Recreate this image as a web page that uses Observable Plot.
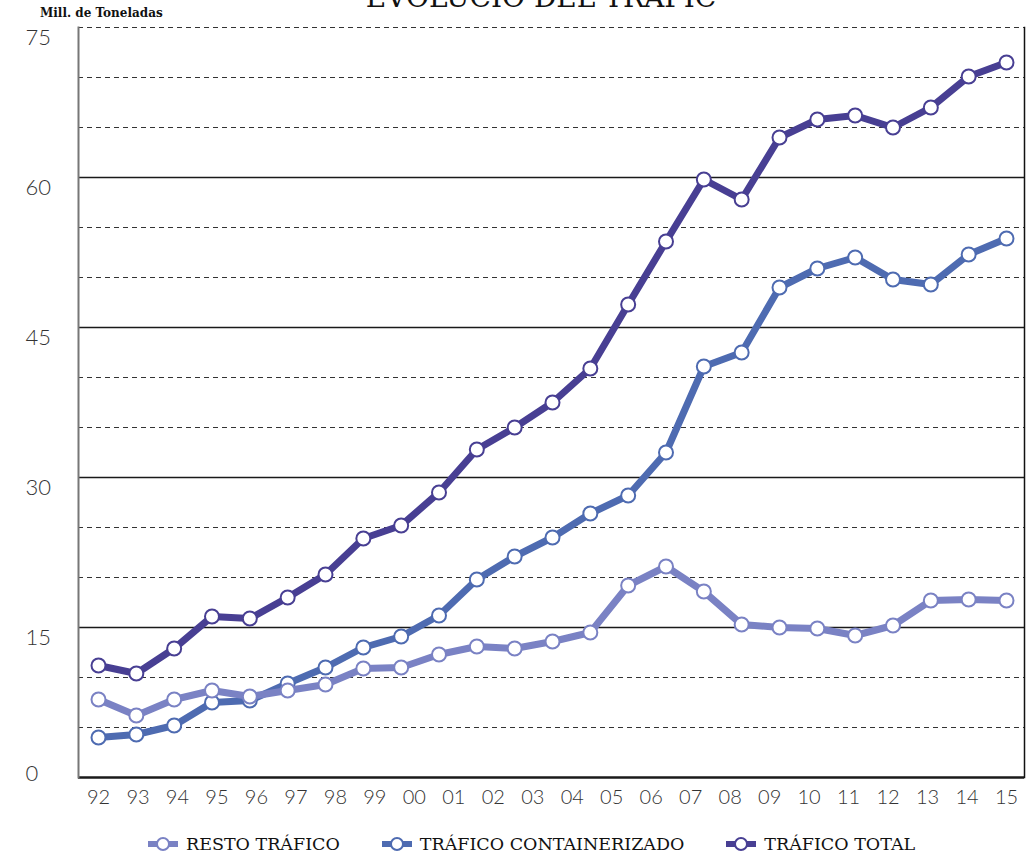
<!DOCTYPE html>
<html><head><meta charset="utf-8">
<script src="https://cdn.jsdelivr.net/npm/d3@7"></script>
<script src="https://cdn.jsdelivr.net/npm/@observablehq/plot@0.6"></script>
<style>
body{margin:0;background:#fff;}
#wrap{position:relative;width:1027px;height:856px;overflow:hidden;background:#fff;}
#chart{position:absolute;top:0;left:0;}
#title{position:absolute;top:-18px;left:291px;width:500px;text-align:center;font-family:"DejaVu Serif";font-size:28px;line-height:32px;color:#111;white-space:nowrap;z-index:2;}
#unit{position:absolute;top:6px;left:40px;font-family:"DejaVu Serif";font-weight:bold;font-size:12px;line-height:14px;color:#111;white-space:nowrap;z-index:2;}
#legend{position:absolute;top:834px;left:148px;display:flex;align-items:center;font-family:"DejaVu Serif";font-size:17.5px;color:#111;white-space:nowrap;z-index:2;}
.item{display:flex;align-items:center;margin-right:42px;}
.item svg{margin-right:8px;}
</style></head><body>
<div id="wrap">
<div id="chart"></div>
<div id="title">EVOLUCIÓ DEL TRÀFIC</div>
<div id="unit">Mill. de Toneladas</div>
<div id="legend"></div>
</div>
<script>
// tick labels on the x axis (24 labels)
const yearLabels = ["92","93","94","95","96","97","98","99","00","01","02","03","04","05","06","07","08","09","10","11","12","13","14","15"];
// series values (25 points each, as drawn)
const resto = [7.8, 6.2, 7.8, 8.7, 8.1, 8.7, 9.3, 10.9, 11.0, 12.3, 13.1, 12.9, 13.6, 14.5, 19.2, 21.1, 18.6, 15.3, 15.0, 14.9, 14.2, 15.2, 17.7, 17.8, 17.7];
const containerizado = [4.0, 4.3, 5.2, 7.5, 7.7, 9.4, 11.0, 13.0, 14.1, 16.2, 19.8, 22.1, 24.0, 26.4, 28.2, 32.5, 41.1, 42.5, 49.0, 50.9, 52.0, 49.8, 49.3, 52.3, 53.9];
const total = [11.2, 10.4, 12.9, 16.1, 15.9, 18.0, 20.3, 23.9, 25.2, 28.5, 32.8, 35.0, 37.5, 40.9, 47.3, 53.6, 59.8, 57.8, 64.0, 65.8, 66.2, 65.0, 67.0, 70.1, 71.5];
const seriesNames = ["RESTO TRÁFICO", "TRÁFICO CONTAINERIZADO", "TRÁFICO TOTAL"];
const seriesColors = ["#7a82c4", "#4e6bb1", "#483f93"];
const yTicks = [0, 15, 30, 45, 60, 75];
const yMinor = [5, 10, 20, 25, 35, 40, 50, 55, 65, 70, 75];

const seriesValues = [resto, containerizado, total];
const rows = seriesValues.map((vals, s) => vals.map((v, i) => ({i, v, s: seriesNames[s]})));
const nPts = total.length - 1;
const tickPos = yearLabels.map((d, k) => k * nPts / (yearLabels.length - 1));

const lineMarks = [1, 0, 2].flatMap(s => [
  Plot.line(rows[s], {x: "i", y: "v", stroke: seriesColors[s], strokeWidth: 7, strokeLinejoin: "round"}),
  Plot.dot(rows[s], {x: "i", y: "v", r: 7, fill: "white", stroke: seriesColors[s], strokeWidth: 2})
]);

const chart = Plot.plot({
  width: 1027, height: 817,
  marginLeft: 78, marginRight: 3, marginTop: 27, marginBottom: 40,
  x: {domain: [0, nPts], insetLeft: 20, insetRight: 18, axis: null},
  y: {domain: [0, 75], axis: null},
  style: {fontFamily: "Lato", background: "white"},
  marks: [
    Plot.ruleY(yMinor, {stroke: "#333", strokeWidth: 1.2, strokeDasharray: "5,4"}),
    Plot.ruleY(yTicks.filter(d => d > 0 && d < 75), {stroke: "#1a1a1a", strokeWidth: 1.6}),
    Plot.ruleY([0], {stroke: "#1a1a1a", strokeWidth: 2.5}),
    Plot.frame({anchor: "left", stroke: "#777", strokeWidth: 2}),
    Plot.frame({anchor: "right", stroke: "#111", strokeWidth: 1.5}),
    Plot.axisY(yTicks.filter(d => d > 0), {tickSize: 0, tickPadding: 0, textAnchor: "start", dx: -53, dy: 10, fontSize: 22, fontWeight: 300, fill: "#333", label: null}),
    Plot.axisY([0], {tickSize: 0, tickPadding: 0, textAnchor: "start", dx: -53, dy: -4, fontSize: 22, fontWeight: 300, fill: "#333", label: null}),
    Plot.axisX(tickPos, {tickSize: 0, tickPadding: 12, tickFormat: d => yearLabels[Math.round(d * (yearLabels.length - 1) / nPts)], fontSize: 20, fontWeight: 300, fill: "#333", label: null}),
    ...lineMarks
  ]
});
document.getElementById("chart").appendChild(chart);

const legend = document.getElementById("legend");
seriesNames.forEach((name, s) => {
  const item = document.createElement("div");
  item.className = "item";
  item.innerHTML = `<svg width="30" height="16"><line x1="0" y1="8" x2="30" y2="8" stroke="${seriesColors[s]}" stroke-width="6"/><circle cx="15" cy="8" r="6" fill="white" stroke="${seriesColors[s]}" stroke-width="2"/></svg><span>${name}</span>`;
  legend.appendChild(item);
});
</script>
</body></html>
